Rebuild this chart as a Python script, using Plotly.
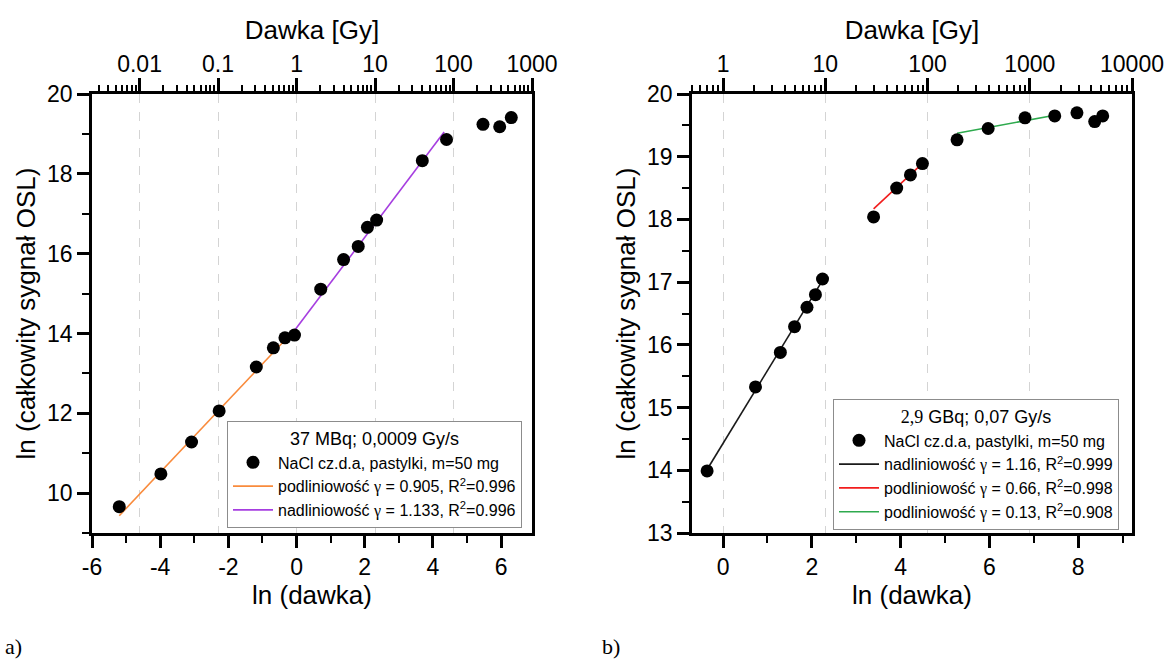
import math
import plotly.graph_objects as go

SANS = "Liberation Sans, Arial, sans-serif"
SERIF = "Liberation Serif, Times New Roman, serif"

# ---------------- panel a) : 37 MBq source ----------------
a_ln_dose = [-5.20, -3.98, -3.08, -2.27, -1.18, -0.68, -0.34, -0.06, 0.71, 1.38,
             1.81, 2.08, 2.35, 3.69, 4.40, 5.47, 5.96, 6.30]
a_ln_signal = [9.66, 10.48, 11.28, 12.06, 13.16, 13.64, 13.89, 13.96, 15.11, 15.85,
               16.18, 16.66, 16.84, 18.33, 18.86, 19.24, 19.18, 19.41]

# linear fits in ln-ln space: slope (gamma), intercept, fitted x-span
a_fit_gamma = [0.905, 1.133]
a_fit_intercept = [14.14, 14.14]
a_fit_x0 = [-5.20, -0.17]
a_fit_x1 = [-0.17, 4.33]
a_fit_r2 = ["0.996", "0.996"]
a_fit_kind = ["podliniowość", "nadliniowość"]
a_fit_color = ["#f98b3c", "#a63ee0"]
a_ln_ticks = [-6, -4, -2, 0, 2, 4, 6]
a_dose_ticks = [0.01, 0.1, 1, 10, 100, 1000]
a_dose_labels = ["0.01", "0.1", "1", "10", "100", "1000"]

# ---------------- panel b) : 2,9 GBq source ----------------
b_ln_dose = [-0.36, 0.73, 1.29, 1.61, 1.89, 2.08, 2.24, 3.39, 3.91, 4.22,
             4.49, 5.27, 5.97, 6.80, 7.47, 7.97, 8.37, 8.55]
b_ln_signal = [13.99, 15.33, 15.88, 16.29, 16.60, 16.80, 17.05, 18.04, 18.50, 18.71,
               18.89, 19.27, 19.45, 19.62, 19.65, 19.70, 19.56, 19.65]

b_fit_gamma = [1.16, 0.66, 0.13]
b_fit_intercept = [14.43, 15.93, 18.69]
b_fit_x0 = [-0.36, 3.39, 5.27]
b_fit_x1 = [2.24, 4.49, 7.47]
b_fit_r2 = ["0.999", "0.998", "0.908"]
b_fit_kind = ["nadliniowość", "podliniowość", "podliniowość"]
b_fit_color = ["#1a1a1a", "#f21d1d", "#2eaa4e"]
b_ln_ticks = [0, 2, 4, 6, 8]
b_dose_ticks = [1, 10, 100, 1000, 10000]
b_dose_labels = ["1", "10", "100", "1000", "10000"]

POINT_LABEL = "NaCl cz.d.a, pastylki, m=50 mg"
GAMMA = f'<span style="font-family:{SERIF}">γ</span>'

A_XRANGE = [-6.0, math.log(1000)]
B_XRANGE = [-0.70, math.log(10000)]


def fit_name(kind, g, r2):
    return f"{kind} {GAMMA} = {g}, R<sup>2</sup>={r2}"


def minor_dose_ticks(xr):
    vals = []
    for e in range(-4, 5):
        for k in range(2, 10):
            v = math.log(k * 10.0 ** e)
            if xr[0] <= v <= xr[1]:
                vals.append(v)
    return vals


fig = go.Figure()


def add_panel(xd, yd, gam, icp, x0s, x1s, r2s, kinds, cols, xb, xt, ya, leg):
    # fitted lines sit on the bottom (ln) axis, below the markers
    for g, b, x0, x1, r2, kind, col in zip(gam, icp, x0s, x1s, r2s, kinds, cols):
        fig.add_trace(go.Scatter(
            x=[x0, x1], y=[b + g * x0, b + g * x1], mode="lines",
            line=dict(color=col, width=1.6), name=fit_name(kind, g, r2),
            xaxis=xb, yaxis=ya, legend=leg, legendrank=2))
    # measured points use the top (dose) axis, which shares the same ln scale
    fig.add_trace(go.Scatter(
        x=xd, y=yd, mode="markers", name=POINT_LABEL,
        marker=dict(color="black", size=13), xaxis=xt, yaxis=ya, legend=leg,
        legendrank=1))


add_panel(a_ln_dose, a_ln_signal, a_fit_gamma, a_fit_intercept, a_fit_x0, a_fit_x1,
          a_fit_r2, a_fit_kind, a_fit_color, "x", "x2", "y", "legend")
add_panel(b_ln_dose, b_ln_signal, b_fit_gamma, b_fit_intercept, b_fit_x0, b_fit_x1,
          b_fit_r2, b_fit_kind, b_fit_color, "x3", "x4", "y2", "legend2")

W, H = 1168, 661
A_DOM = [92 / W, 532 / W]
B_DOM = [692 / W, 1132 / W]
Y_DOM = [1 - 533 / H, 1 - 94 / H]

TICKFONT = dict(family=SANS, size=23, color="black")
TITLEFONT = dict(family=SANS, size=26, color="black")
LINE = dict(showline=True, linewidth=2.5, linecolor="black", zeroline=False,
            automargin=False)


def bottom_axis(dom, anchor, xr, ticks):
    return dict(domain=dom, anchor=anchor, range=xr, autorange=False,
                tickmode="array", tickvals=ticks, ticktext=[str(t) for t in ticks],
                ticks="outside", ticklen=12, tickwidth=2.5, tickcolor="black",
                minor=dict(ticks="outside", ticklen=7, tickwidth=2, tickcolor="black",
                           tickmode="linear", tick0=0, dtick=1),
                showgrid=False, tickfont=TICKFONT,
                title=dict(text="ln (dawka)", font=TITLEFONT, standoff=6), **LINE)


def top_axis(over, anchor, xr, vals, labels):
    return dict(overlaying=over, anchor=anchor, side="top", range=xr, autorange=False,
                tickmode="array", tickvals=[math.log(v) for v in vals], ticktext=labels,
                ticks="outside", ticklen=13, tickwidth=2.5, tickcolor="black",
                minor=dict(ticks="outside", ticklen=6, tickwidth=2, tickcolor="black",
                           tickmode="array", tickvals=minor_dose_ticks(xr)),
                showgrid=True, gridcolor="#d4d4d4", gridwidth=1, griddash="dash",
                tickfont=TICKFONT, ticklabelstandoff=-3,
                title=dict(text="Dawka [Gy]", font=TITLEFONT, standoff=4), **LINE)


def left_axis(anchor, yr, dt):
    return dict(domain=Y_DOM, anchor=anchor, range=yr, autorange=False,
                tickmode="linear", tick0=0, dtick=dt, ticks="outside",
                ticklen=12, tickwidth=2.5, tickcolor="black",
                minor=dict(ticks="outside", ticklen=7, tickwidth=2, tickcolor="black",
                           tickmode="linear", tick0=0, dtick=dt / 2),
                showgrid=False, mirror=True, tickfont=TICKFONT,
                title=dict(text="ln (całkowity sygnał OSL)", font=TITLEFONT, standoff=4),
                **LINE)


legend_common = dict(
    bgcolor="white", bordercolor="#8c8c8c", borderwidth=1,
    font=dict(family=SANS, size=16, color="black"),
    xanchor="left", yanchor="top", tracegroupgap=0, itemwidth=40,
)

fig.update_layout(
    width=W, height=H, autosize=False,
    margin=dict(l=0, r=0, t=0, b=0),
    paper_bgcolor="white", plot_bgcolor="white",
    font=dict(family=SANS, color="black"),
    xaxis=bottom_axis(A_DOM, "y", A_XRANGE, a_ln_ticks),
    xaxis2=top_axis("x", "y", A_XRANGE, a_dose_ticks, a_dose_labels),
    yaxis=left_axis("x", [9, 20], 2),
    xaxis3=bottom_axis(B_DOM, "y2", B_XRANGE, b_ln_ticks),
    xaxis4=top_axis("x3", "y2", B_XRANGE, b_dose_ticks, b_dose_labels),
    yaxis2=left_axis("x3", [13, 20], 1),
    legend=dict(x=227 / W, y=1 - 421 / H, traceorder="normal",
                title=dict(text="37 MBq; 0,0009 Gy/s", side="top center",
                           font=dict(family=SANS, size=18)),
                **legend_common),
    legend2=dict(x=833 / W, y=1 - 399 / H, traceorder="normal",
                 title=dict(text=f'<span style="font-family:{SERIF}">2,9</span> GBq; 0,07 Gy/s',
                            side="top center", font=dict(family=SANS, size=18)),
                 **legend_common),
    showlegend=True,
)

# panel letters
for txt, xp in [("a)", 3), ("b)", 600)]:
    fig.add_annotation(text=txt, xref="paper", yref="paper", x=xp / W, y=1 - 646 / H,
                       xanchor="left", yanchor="middle", showarrow=False,
                       font=dict(family=SERIF, size=22, color="black"))

fig.write_html("out.html")
